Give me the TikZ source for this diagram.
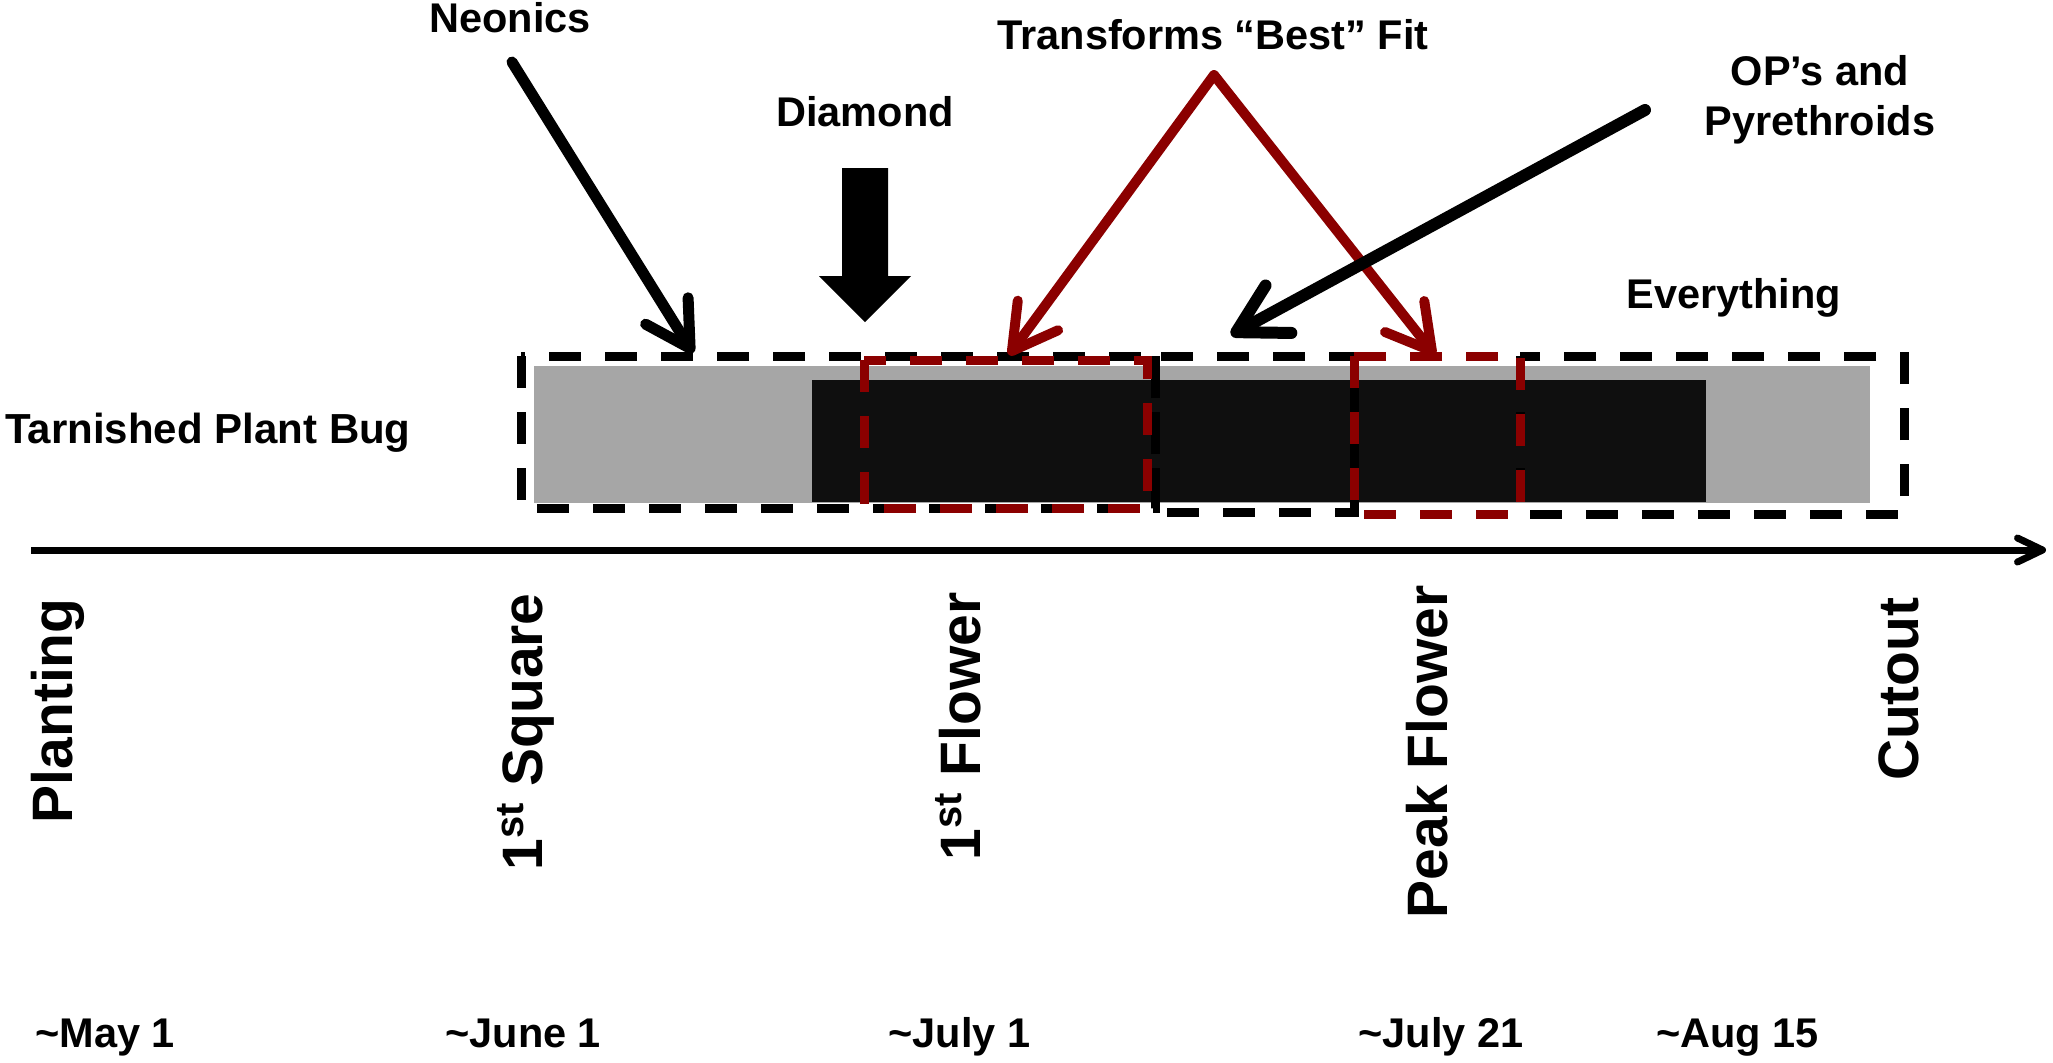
\documentclass[tikz,border=0pt]{standalone}
\usepackage{fontspec}
\setmainfont{Liberation Sans}
\usetikzlibrary{arrows.meta}
\definecolor{dred}{HTML}{8B0000}
\definecolor{barg}{HTML}{A6A6A6}
\definecolor{barb}{HTML}{0F0F0F}
\tikzset{
  lbl/.style={font=\fontsize{20.75pt}{25pt}\selectfont\bfseries, inner sep=0pt},
  stage/.style={font=\fontsize{28.5pt}{34pt}\selectfont\bfseries, inner sep=0pt, rotate=90, anchor=base east},
  datelbl/.style={lbl, anchor=base west},
  dbox/.style={line width=4.5pt, dash pattern=on 16pt off 12pt},
  ptr/.style={line width=5.5pt, line cap=round, -{Straight Barb[length=22pt,width=25pt,round]}},
}
\begin{document}
\begin{tikzpicture}[x=0.5pt,y=-0.5pt]
\useasboundingbox (0,0) rectangle (2053,1062);
% bars
\fill[barg] (534,366) rectangle (1870,503);
\fill[barb] (812,380) rectangle (1706,502);
% dashed boxes
\draw[dbox] (521,356) rectangle (1155,508);
\draw[dbox] (1155,356) rectangle (1354,512);
\draw[dbox] (1520,356) rectangle (1904,514);
\draw[dbox, dred] (864,360) rectangle (1147,508);
\draw[dbox, dred] (1354,356) rectangle (1520,514);
% labels
\node[lbl, anchor=base] (neo) at (510,32) {Neonics};
\node[lbl, anchor=base] (dia) at (865,126) {Diamond};
\node[lbl, anchor=base] (tf) at (1213,49) {Transforms “Best” Fit};
\node[lbl, anchor=base, align=center] (op) at (1820,135) {OP’s and\\Pyrethroids};
\node[lbl, anchor=base] (ev) at (1734,308) {Everything};
\node[lbl, anchor=base west, font=\fontsize{21pt}{25pt}\selectfont\bfseries] (tpb) at (5,443) {Tarnished Plant Bug};
% arrows
\coordinate (neoS) at (512,62);
\coordinate (neoT) at (693,353);
\draw[ptr] (neoS) -- (neoT);
\fill (842,168) -- (888,168) -- (888,276) -- (911,276) -- (865,322) -- (819,276) -- (842,276) -- cycle;
\coordinate (apex) at (1214,75);
\coordinate (tfL) at (1009,355);
\coordinate (tfR) at (1435,355);
\draw[ptr, dred, line width=5pt] (apex) -- (tfL);
\draw[ptr, dred, line width=5pt] (apex) -- (tfR);
\coordinate (opS) at (1645,110);
\coordinate (opT) at (1231,335);
\draw[ptr, line width=6pt, -{Straight Barb[length=24pt,width=27pt,round]}] (opS) -- (opT);
% axis
\coordinate (axS) at (31,550);
\coordinate (axE) at (2046,550);
\draw[line width=3.5pt, -{Straight Barb[length=12.5pt,width=12pt,round]}] (axS) -- (axE);
% stages
\node[stage] (s1) at (72,598) {Planting};
\node[stage] (s2) at (542,593) {1\textsuperscript{st} Square};
\node[stage] (s3) at (980,592) {1\textsuperscript{st} Flower};
\node[stage] (s4) at (1447,585) {Peak Flower};
\node[stage] (s5) at (1918,597) {Cutout};
% dates
\node[datelbl] (d1) at (35,1047) {\textasciitilde May 1};
\node[datelbl] (d2) at (445,1047) {\textasciitilde June 1};
\node[datelbl] (d3) at (888,1047) {\textasciitilde July 1};
\node[datelbl] (d4) at (1358,1047) {\textasciitilde July 21};
\node[datelbl] (d5) at (1656,1047) {\textasciitilde Aug 15};
\end{tikzpicture}
\end{document}
